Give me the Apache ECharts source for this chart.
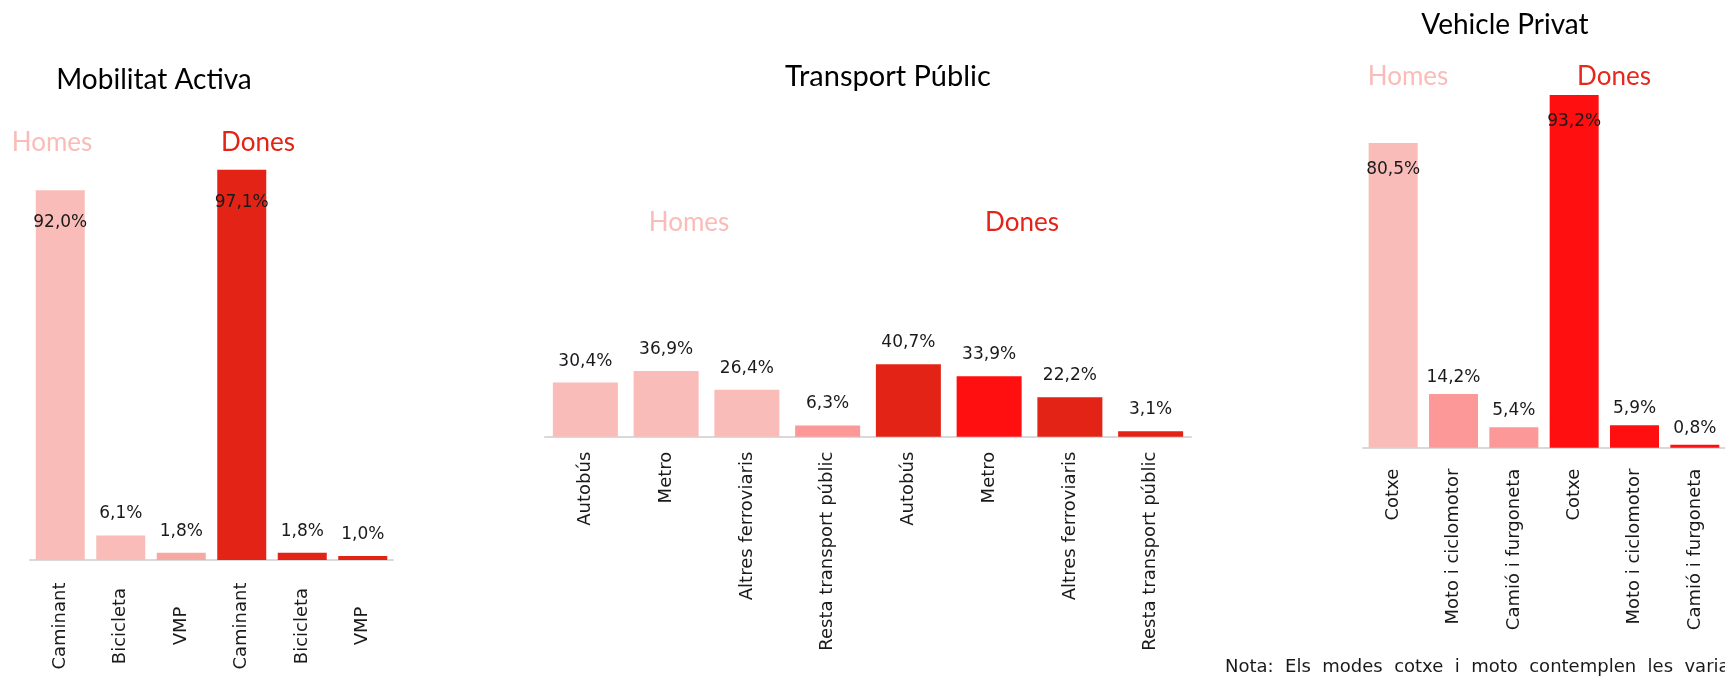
<!DOCTYPE html>
<html>
<head>
<meta charset="utf-8">
<script src="https://cdn.jsdelivr.net/npm/echarts@6/dist/echarts.min.js"></script>
<style>
  html, body { margin: 0; padding: 0; background: #fff; }
  #main { width: 1725px; height: 678px; }
</style>
</head>
<body>
<div id="main"></div>
<script>
// ---- data ----
var mobModes = ['Caminant', 'Bicicleta', 'VMP'];
var mobHomes = [92.0, 6.1, 1.8];
var mobDones = [97.1, 1.8, 1.0];

var tpModes = ['Autobús', 'Metro', 'Altres ferroviaris', 'Resta transport públic'];
var tpHomes = [30.4, 36.9, 26.4, 6.3];
var tpDones = [40.7, 33.9, 22.2, 3.1];

var vpModes = ['Cotxe', 'Moto i ciclomotor', 'Camió i furgoneta'];
var vpHomes = [80.5, 14.2, 5.4];
var vpDones = [93.2, 5.9, 0.8];

// ---- styles ----
var TITLE_FONT = 'Lato';
var FONT = 'DejaVu Sans';
var pinkLight = '#F9BCB8';
var pinkMid = '#FD9898';
var redDark = '#E32315';
var redBright = '#FF0F0F';

var mobColors = [pinkLight, pinkLight, '#F6A8A2', redDark, redDark, redDark];
var tpColors = [pinkLight, pinkLight, pinkLight, pinkMid, redDark, redBright, redDark, redDark];
var vpColors = [pinkLight, pinkMid, pinkMid, redBright, redBright, redBright];

function fmt(v) {
    return v.toFixed(1).replace('.', ',') + '%';
}

function buildData(homes, dones, colors, insideDist, topDist) {
    var vals = homes.concat(dones);
    return vals.map(function (v, i) {
        var inside = v > 50;
        return {
            value: v,
            itemStyle: { color: colors[i] },
            label: {
                position: inside ? 'insideTop' : 'top',
                distance: inside ? insideDist : topDist
            }
        };
    });
}

function xAxisFor(idx, modes, labelOpts) {
    return {
        type: 'category',
        gridIndex: idx,
        data: modes.concat(modes),
        axisTick: { show: false },
        axisLine: { lineStyle: { color: '#D9D9D9', width: 2 } },
        axisLabel: Object.assign({
            rotate: 90,
            interval: 0,
            color: '#1a1a1a',
            fontFamily: FONT,
            fontSize: 18
        }, labelOpts)
    };
}

function yAxisFor(idx) {
    return { type: 'value', gridIndex: idx, min: 0, max: 100, show: false };
}

function barSeries(idx, data, width) {
    return {
        type: 'bar',
        xAxisIndex: idx,
        yAxisIndex: idx,
        barWidth: width,
        data: data,
        animation: false,
        label: {
            show: true,
            color: '#1a1a1a',
            fontFamily: FONT,
            fontSize: 17,
            formatter: function (p) { return fmt(p.value); }
        }
    };
}

function txt(x, y, s, size, color) {
    return {
        type: 'text',
        x: x,
        y: y,
        style: {
            text: s,
            fontFamily: TITLE_FONT,
            fontSize: size,
            fill: color,
            textAlign: 'center',
            textVerticalAlign: 'middle'
        }
    };
}

var chart = echarts.init(document.getElementById('main'));
var option = {
    backgroundColor: '#fff',
    grid: [
        { left: 30, top: 158, width: 363, height: 402 },
        { left: 545, top: 258.7, width: 646, height: 178 },
        { left: 1363, top: 69.2, width: 381.6, height: 378.5 }
    ],
    xAxis: [
        xAxisFor(0, mobModes, { align: 'center', verticalAlign: 'middle', margin: 66 }),
        xAxisFor(1, tpModes, { margin: 15 }),
        xAxisFor(2, vpModes, { margin: 21 })
    ],
    yAxis: [yAxisFor(0), yAxisFor(1), yAxisFor(2)],
    series: [
        barSeries(0, buildData(mobHomes, mobDones, mobColors, 24, 13), 49),
        barSeries(1, buildData(tpHomes, tpDones, tpColors, 20, 13), 65),
        barSeries(2, buildData(vpHomes, vpDones, vpColors, 18, 8), 49)
    ],
    graphic: [
        txt(154, 80, 'Mobilitat Activa', 28, '#000'),
        txt(52, 143, 'Homes', 26, pinkLight),
        txt(258, 143, 'Dones', 26, redDark),

        txt(888, 77, 'Transport Públic', 29, '#000'),
        txt(689, 223, 'Homes', 26, pinkLight),
        txt(1022, 223, 'Dones', 26, '#E52419'),

        txt(1505, 25, 'Vehicle Privat', 28, '#000'),
        txt(1408, 77, 'Homes', 26, pinkLight),
        txt(1614, 77, 'Dones', 26, '#E42A1D'),

        {
            type: 'text',
            x: 1225,
            y: 667,
            style: {
                text: 'Nota:  Els  modes  cotxe  i  moto  contemplen  les  variants',
                fontFamily: FONT,
                fontSize: 18,
                fill: '#1a1a1a',
                textAlign: 'left',
                textVerticalAlign: 'middle'
            }
        }
    ]
};
chart.setOption(option);
</script>
</body>
</html>
